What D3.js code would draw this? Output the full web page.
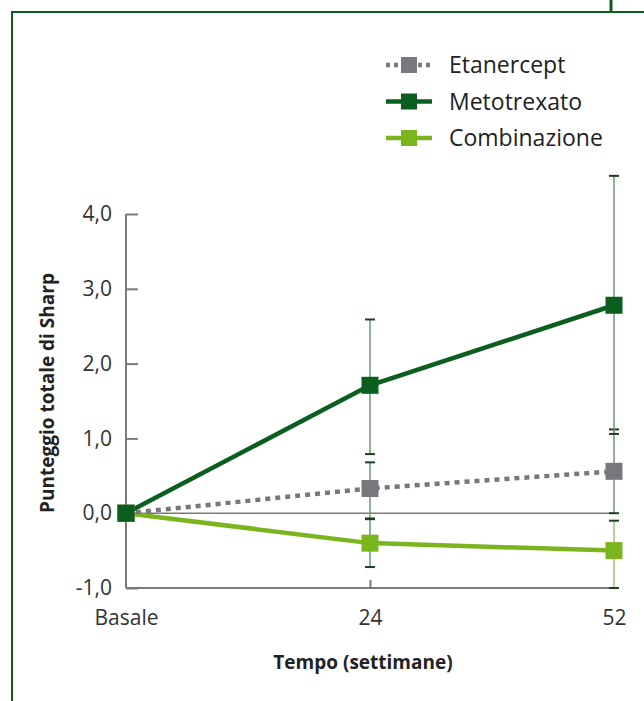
<!DOCTYPE html>
<html>
<head>
<meta charset="utf-8">
<script src="https://cdn.jsdelivr.net/npm/d3@7"></script>
<style>
  body { margin: 0; background: #fff; }
  svg { display: block; font-family: "Open Sans", sans-serif; }
</style>
</head>
<body>
<div class="chart"></div>
<script>
var svgWidth = 644;
var svgHeight = 701;

// data
var categories = ["Basale", "24", "52"];
var yTicks = [-1, 0, 1, 2, 3, 4];
var seriesNames = ["Etanercept", "Metotrexato", "Combinazione"];
var etanercept = [0, 0.33, 0.56];
var etanerceptUp = [null, 0.68, 1.12];
var etanerceptLow = [null, -0.07, 0.0];
var metotrexato = [0, 1.71, 2.78];
var metotrexatoUp = [null, 2.59, 4.51];
var metotrexatoLow = [null, 0.79, 1.06];
var combinazione = [0, -0.4, -0.5];
var combinazioneUp = [null, -0.08, -0.1];
var combinazioneLow = [null, -0.72, -1.0];

var colors = { Etanercept: "#77787b", Metotrexato: "#0b5e1e", Combinazione: "#7ab51d" };
var frameColor = "#0b5e1e";
var axisColor = "#7a7a7a";

var series = [
  { name: "Etanercept", values: etanercept, up: etanerceptUp, low: etanerceptLow, dash: "5,5" },
  { name: "Metotrexato", values: metotrexato, up: metotrexatoUp, low: metotrexatoLow, dash: null },
  { name: "Combinazione", values: combinazione, up: combinazioneUp, low: combinazioneLow, dash: null }
];

var svg = d3.select(".chart")
  .append("svg")
  .attr("width", svgWidth)
  .attr("height", svgHeight);

// green frame
svg.append("path")
  .attr("d", "M12,701 V12 H644")
  .attr("fill", "none")
  .attr("stroke", frameColor)
  .attr("stroke-width", 2);
svg.append("line")
  .attr("x1", 611).attr("x2", 611).attr("y1", 0).attr("y2", 12)
  .attr("stroke", frameColor).attr("stroke-width", 3);

var x = d3.scalePoint().domain(categories).range([126, 614]);
var y = d3.scaleLinear().domain([-1, 4]).range([588, 214]);

// y axis
var yAxis = svg.append("g")
  .attr("transform", "translate(126,0)")
  .call(d3.axisRight(y).tickValues(yTicks).tickSize(12)
    .tickFormat(d => d.toFixed(1).replace(".", ",")));
yAxis.select(".domain").attr("stroke", axisColor).attr("stroke-width", 2).attr("d", "M0," + y(4) + "V" + y(-1));
yAxis.selectAll(".tick line").attr("stroke", axisColor).attr("stroke-width", 2);
yAxis.selectAll(".tick text")
  .attr("x", -14)
  .attr("text-anchor", "end")
  .attr("fill", "#333")
  .style("font-size", "21px")
  .style("font-family", "Open Sans, sans-serif");

// x axis
var xAxis = svg.append("g")
  .attr("transform", "translate(0," + y(-1) + ")")
  .call(d3.axisBottom(x).tickSize(-8).tickPadding(22));
xAxis.select(".domain").attr("stroke", axisColor).attr("stroke-width", 2).attr("d", "M126,0H614");
xAxis.selectAll(".tick line").attr("stroke", axisColor).attr("stroke-width", 2)
  .attr("opacity", d => d === "24" ? 1 : 0);
xAxis.selectAll(".tick text")
  .attr("fill", "#333")
  .style("font-size", "21px")
  .style("font-family", "Open Sans, sans-serif");

// zero line
svg.append("line")
  .attr("x1", x("Basale")).attr("x2", x("52"))
  .attr("y1", y(0)).attr("y2", y(0))
  .attr("stroke", axisColor).attr("stroke-width", 1.5);

// axis titles
svg.append("text")
  .attr("transform", "translate(54," + ((y(4) + y(-1)) / 2 - 8) + ") rotate(-90)")
  .attr("text-anchor", "middle")
  .attr("fill", "#222")
  .style("font-size", "19px")
  .style("font-weight", "bold")
  .text("Punteggio totale di Sharp");

svg.append("text")
  .attr("x", 363).attr("y", 669)
  .attr("text-anchor", "middle")
  .attr("fill", "#222")
  .style("font-size", "19px")
  .style("font-weight", "bold")
  .text("Tempo (settimane)");

// error bars
var errGroup = svg.append("g");
series.forEach(function(s) {
  categories.forEach(function(c, i) {
    if (s.up[i] === null) return;
    var cx = x(c);
    errGroup.append("line")
      .attr("x1", cx).attr("x2", cx)
      .attr("y1", y(s.up[i])).attr("y2", y(s.low[i]))
      .attr("stroke", s.name === "Combinazione" && i === 2 ? "#9cc86a" : "#6f9572")
      .attr("stroke-width", 1.5);
    [s.up[i], s.low[i]].forEach(function(v) {
      errGroup.append("line")
        .attr("x1", cx - 5).attr("x2", cx + 5)
        .attr("y1", y(v)).attr("y2", y(v))
        .attr("stroke", "#1f3f22")
        .attr("stroke-width", 2);
    });
  });
});

// lines and markers (Metotrexato drawn last so it sits on top at Basale)
var drawOrder = [series[2], series[0], series[1]];
var line = d3.line()
  .x((d, i) => x(categories[i]))
  .y(d => y(d));

drawOrder.forEach(function(s) {
  svg.append("path")
    .datum(s.values)
    .attr("fill", "none")
    .attr("stroke", colors[s.name])
    .attr("stroke-width", 4.5)
    .attr("stroke-dasharray", s.dash)
    .attr("d", line);
});
drawOrder.forEach(function(s) {
  svg.selectAll(null)
    .data(s.values)
    .enter()
    .append("rect")
    .attr("x", (d, i) => x(categories[i]) - 8.5)
    .attr("y", d => y(d) - 8.5)
    .attr("width", 17)
    .attr("height", 17)
    .attr("fill", colors[s.name]);
});

// legend
var legend = svg.append("g");
var legendY = d3.scalePoint().domain(seriesNames).range([65, 138]);
series.forEach(function(s) {
  var g = legend.append("g").attr("transform", "translate(0," + legendY(s.name) + ")");
  g.append("line")
    .attr("x1", 386).attr("x2", 432)
    .attr("stroke", colors[s.name])
    .attr("stroke-width", 4.5)
    .attr("stroke-dasharray", s.dash ? "4,4" : null);
  g.append("rect")
    .attr("x", 401).attr("y", -8)
    .attr("width", 16).attr("height", 16)
    .attr("fill", colors[s.name]);
  g.append("text")
    .attr("x", 449).attr("y", 8)
    .attr("fill", "#222")
    .style("font-size", "23px")
    .text(s.name);
});
</script>
</body>
</html>
